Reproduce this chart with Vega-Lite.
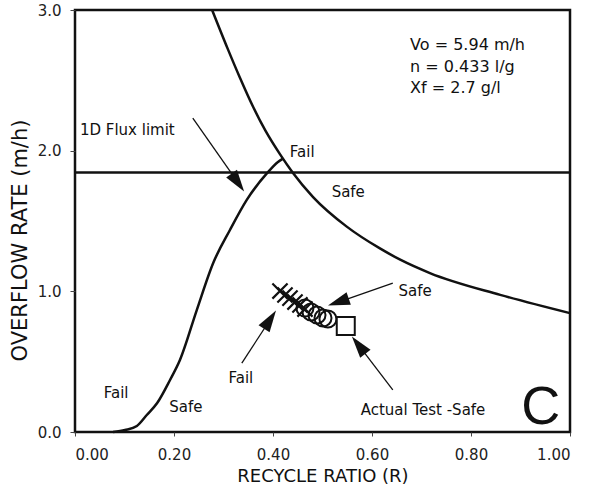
{
  "$schema": "https://vega.github.io/schema/vega-lite/v6.json",
  "width": 495,
  "height": 422,
  "autosize": {"type": "none"},
  "padding": {"left": 75, "top": 10, "right": 25, "bottom": 60},
  "background": "white",
  "config": {
    "view": {"stroke": "#111", "strokeWidth": 2.5},
    "font": "DejaVu Sans",
    "axis": {"grid": false, "domain": false, "tickColor": "#444", "labelColor": "#222", "titleColor": "#111", "labelFont": "DejaVu Sans", "titleFont": "DejaVu Sans", "labelFontSize": 15, "titleFontWeight": "normal"},
    "text": {"font": "DejaVu Sans", "fontSize": 15, "color": "#111"}
  },
  "datasets": {
    "curves": [
      {"curve": "upper", "i": 1, "R": 0.277, "Q": 3.0},
      {"curve": "upper", "i": 2, "R": 0.309, "Q": 2.72},
      {"curve": "upper", "i": 3, "R": 0.333, "Q": 2.52},
      {"curve": "upper", "i": 4, "R": 0.360, "Q": 2.31},
      {"curve": "upper", "i": 5, "R": 0.385, "Q": 2.14},
      {"curve": "upper", "i": 6, "R": 0.414, "Q": 1.975},
      {"curve": "upper", "i": 7, "R": 0.440, "Q": 1.843},
      {"curve": "upper", "i": 8, "R": 0.481, "Q": 1.67},
      {"curve": "upper", "i": 9, "R": 0.549, "Q": 1.46},
      {"curve": "upper", "i": 10, "R": 0.616, "Q": 1.305},
      {"curve": "upper", "i": 11, "R": 0.657, "Q": 1.225},
      {"curve": "upper", "i": 12, "R": 0.717, "Q": 1.13},
      {"curve": "upper", "i": 13, "R": 0.859, "Q": 0.975},
      {"curve": "upper", "i": 14, "R": 1.0, "Q": 0.845},
      {"curve": "lower", "i": 1, "R": 0.077, "Q": 0.0},
      {"curve": "lower", "i": 2, "R": 0.101, "Q": 0.014},
      {"curve": "lower", "i": 3, "R": 0.125, "Q": 0.043},
      {"curve": "lower", "i": 4, "R": 0.145, "Q": 0.121},
      {"curve": "lower", "i": 5, "R": 0.166, "Q": 0.206},
      {"curve": "lower", "i": 6, "R": 0.192, "Q": 0.370},
      {"curve": "lower", "i": 7, "R": 0.212, "Q": 0.512},
      {"curve": "lower", "i": 8, "R": 0.246, "Q": 0.867},
      {"curve": "lower", "i": 9, "R": 0.279, "Q": 1.20},
      {"curve": "lower", "i": 10, "R": 0.313, "Q": 1.436},
      {"curve": "lower", "i": 11, "R": 0.347, "Q": 1.65},
      {"curve": "lower", "i": 12, "R": 0.388, "Q": 1.84},
      {"curve": "lower", "i": 13, "R": 0.410, "Q": 1.92},
      {"curve": "lower", "i": 14, "R": 0.421, "Q": 1.945}
    ],
    "arrows": [
      {"R": 0.238, "Q": 2.232, "R2": 0.335, "Q2": 1.745, "hR": 0.329, "hQ": 1.773, "ang": 145},
      {"R": 0.642, "Q": 1.059, "R2": 0.525, "Q2": 0.915, "hR": 0.532, "hQ": 0.924, "ang": 251},
      {"R": 0.337, "Q": 0.490, "R2": 0.400, "Q2": 0.83, "hR": 0.394, "hQ": 0.799, "ang": 33},
      {"R": 0.642, "Q": 0.299, "R2": 0.566, "Q2": 0.65, "hR": 0.573, "hQ": 0.618, "ang": 322}
    ],
    "fails": [
      {"R": 0.4141, "Q": 1.002},
      {"R": 0.4242, "Q": 0.974},
      {"R": 0.4343, "Q": 0.952},
      {"R": 0.4444, "Q": 0.924},
      {"R": 0.4545, "Q": 0.903},
      {"R": 0.4646, "Q": 0.874}
    ],
    "safes": [
      {"R": 0.4646, "Q": 0.881},
      {"R": 0.4768, "Q": 0.853},
      {"R": 0.4889, "Q": 0.832},
      {"R": 0.501, "Q": 0.810},
      {"R": 0.511, "Q": 0.803}
    ],
    "actual": [{"R": 0.547, "Q": 0.753}],
    "labels": [
      {"R": 0.459, "Q": 1.99, "t": "Fail"},
      {"R": 0.552, "Q": 1.706, "t": "Safe"},
      {"R": 0.687, "Q": 1.002, "t": "Safe"},
      {"R": 0.335, "Q": 0.384, "t": "Fail"},
      {"R": 0.703, "Q": 0.156, "t": "Actual Test -Safe"},
      {"R": 0.083, "Q": 0.277, "t": "Fail"},
      {"R": 0.224, "Q": 0.178, "t": "Safe"}
    ],
    "info": [
      {"R": 0.677, "Q": 2.75, "t": "Vo = 5.94 m/h"},
      {"R": 0.677, "Q": 2.594, "t": "n = 0.433 l/g"},
      {"R": 0.677, "Q": 2.445, "t": "Xf = 2.7 g/l"}
    ],
    "flux": [{"R": 0.010, "Q": 2.146, "t": "1D Flux limit"}],
    "panel": [{"R": 0.941, "Q": 0.171, "t": "C"}],
    "limit": [{"Q": 1.844}]
  },
  "encoding": {
    "x": {"field": "R", "type": "quantitative", "scale": {"domain": [0, 1], "nice": false},
      "axis": {"title": "RECYCLE RATIO (R)", "values": [0, 0.2, 0.4, 0.6, 0.8, 1.0], "format": ".2f", "tickSize": 4, "labelPadding": 11, "titleFontSize": 18, "titleBaseline": "middle", "titleY": 44}},
    "y": {"field": "Q", "type": "quantitative", "scale": {"domain": [0, 3], "nice": false},
      "axis": {"title": "OVERFLOW RATE (m/h)", "values": [0, 1, 2, 3], "format": ".1f", "tickSize": 5, "labelPadding": 9, "titleFontSize": 21, "titleBaseline": "middle", "titleAlign": "center", "titleAngle": -90, "titleX": -55, "titleY": 230}}
  },
  "layer": [
    {"data": {"name": "limit"}, "mark": {"type": "rule", "color": "#111", "strokeWidth": 2.5}, "encoding": {"x": null}},
    {"data": {"name": "curves"}, "mark": {"type": "line", "color": "#111", "strokeWidth": 2.5, "interpolate": "monotone"},
      "encoding": {"detail": {"field": "curve"}, "order": {"field": "i", "type": "quantitative"}}},
    {"data": {"name": "arrows"}, "mark": {"type": "rule", "color": "#111", "strokeWidth": 1.3},
      "encoding": {"x2": {"field": "R2"}, "y2": {"field": "Q2"}}},
    {"data": {"name": "arrows"}, "mark": {"type": "point", "shape": "M0,-1L0.6,1L-0.6,1Z", "filled": true, "color": "#111", "size": 480, "opacity": 1},
      "encoding": {"x": {"field": "hR", "type": "quantitative"}, "y": {"field": "hQ", "type": "quantitative"}, "angle": {"field": "ang", "type": "quantitative", "scale": null}}},
    {"data": {"name": "fails"}, "mark": {"type": "point", "shape": "M-1,-1L1,1M-1,1L1,-1", "filled": false, "color": "#111", "strokeWidth": 2.2, "size": 230, "opacity": 1}},
    {"data": {"name": "safes"}, "mark": {"type": "point", "shape": "circle", "filled": false, "color": "#111", "strokeWidth": 2, "size": 290, "opacity": 1}},
    {"data": {"name": "actual"}, "mark": {"type": "point", "shape": "square", "filled": true, "fill": "white", "stroke": "#111", "strokeWidth": 2, "size": 324, "opacity": 1}},
    {"data": {"name": "labels"}, "mark": {"type": "text", "align": "center", "baseline": "middle"}, "encoding": {"text": {"field": "t"}}},
    {"data": {"name": "info"}, "mark": {"type": "text", "align": "left", "baseline": "middle", "fontSize": 16}, "encoding": {"text": {"field": "t"}}},
    {"data": {"name": "flux"}, "mark": {"type": "text", "align": "left", "baseline": "middle", "fontSize": 15}, "encoding": {"text": {"field": "t"}}},
    {"data": {"name": "panel"}, "mark": {"type": "text", "align": "center", "baseline": "middle", "fontSize": 54, "font": "Liberation Sans"}, "encoding": {"text": {"field": "t"}}}
  ]
}
